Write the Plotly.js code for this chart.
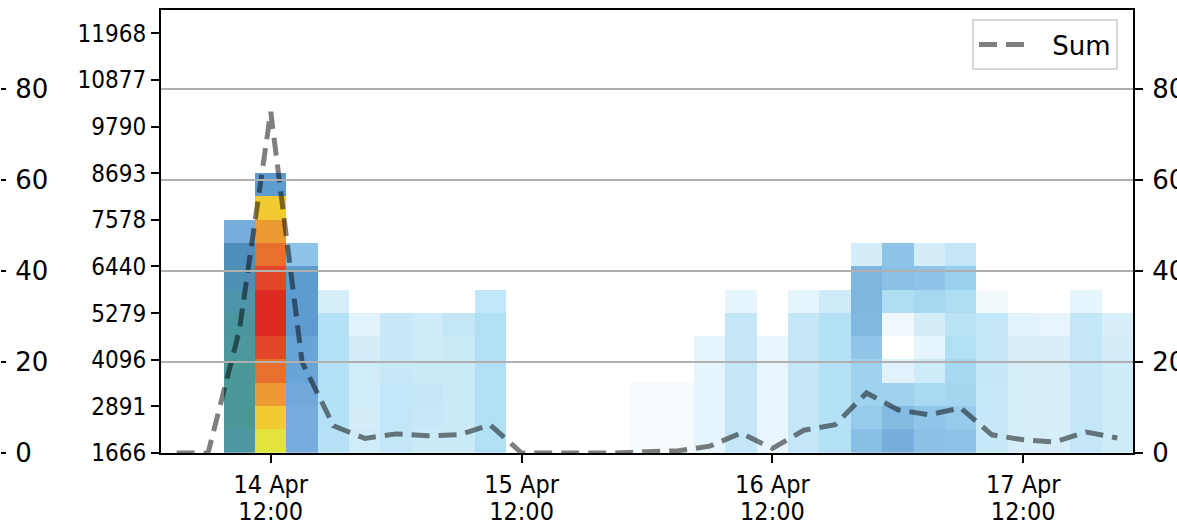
<!DOCTYPE html>
<html>
<head>
<meta charset="utf-8">
<script src="https://cdn.plot.ly/plotly-3.0.1.min.js"></script>
<style>html,body{margin:0;padding:0;background:#fff;}#chart{width:1177px;height:524px;}</style>
</head>
<body>
<div id="chart"></div>
<script>
// ---- data ----
const binCenters = [
  '2024-04-14 03:00','2024-04-14 06:00','2024-04-14 09:00','2024-04-14 12:00','2024-04-14 15:00','2024-04-14 18:00','2024-04-14 21:00',
  '2024-04-15 00:00','2024-04-15 03:00','2024-04-15 06:00','2024-04-15 09:00','2024-04-15 12:00','2024-04-15 15:00','2024-04-15 18:00','2024-04-15 21:00',
  '2024-04-16 00:00','2024-04-16 03:00','2024-04-16 06:00','2024-04-16 09:00','2024-04-16 12:00','2024-04-16 15:00','2024-04-16 18:00','2024-04-16 21:00',
  '2024-04-17 00:00','2024-04-17 03:00','2024-04-17 06:00','2024-04-17 09:00','2024-04-17 12:00','2024-04-17 15:00','2024-04-17 18:00','2024-04-17 21:00'
];
// cell intensity per column, listed bottom row first (empty column = [])
const columnCells = [
  [],
  [],
  [0.69,0.73,0.73,0.73,0.71,0.70,0.67,0.64,0.62,0.50],
  [0.80,0.84,0.88,0.92,0.96,1.00,1.00,0.96,0.92,0.88,0.84,0.56],
  [0.50,0.50,0.51,0.53,0.53,0.56,0.56,0.56,0.40],
  [0.25,0.26,0.26,0.26,0.26,0.26,0.15],
  [0.17,0.16,0.17,0.17,0.16,0.10],
  [0.21,0.22,0.22,0.20,0.20,0.20],
  [0.19,0.20,0.21,0.19,0.18,0.18],
  [0.19,0.19,0.19,0.19,0.19,0.21],
  [0.27,0.27,0.27,0.27,0.27,0.27,0.22],
  [],
  [],
  [],
  [],
  [0.04,0.04,0.04],
  [0.04,0.04,0.04],
  [0.09,0.09,0.09,0.09,0.09],
  [0.21,0.21,0.21,0.21,0.21,0.21,0.09],
  [0.08,0.08,0.08,0.08,0.08],
  [0.21,0.21,0.21,0.21,0.21,0.21,0.09],
  [0.26,0.26,0.26,0.26,0.26,0.26,0.18],
  [0.42,0.37,0.34,0.34,0.39,0.45,0.46,0.46,0.16],
  [0.49,0.44,0.34,0.11,0.00,0.06,0.28,0.41,0.40],
  [0.41,0.39,0.30,0.18,0.09,0.16,0.31,0.40,0.16],
  [0.40,0.37,0.32,0.31,0.27,0.24,0.28,0.35,0.21],
  [0.20,0.20,0.20,0.21,0.21,0.21,0.05],
  [0.15,0.15,0.15,0.15,0.14,0.10],
  [0.15,0.15,0.15,0.15,0.14,0.08],
  [0.21,0.21,0.21,0.21,0.21,0.21,0.09],
  [0.18,0.18,0.18,0.18,0.16,0.14]
];
const sumValues = [0,0,27,75,20,6,3.2,4.2,3.8,4,6.2,0,0,0,0,0.3,0.5,1.5,4.4,1,5,6.2,13.2,9.5,8.4,9.9,4,2.9,2.4,4.6,3.3];
const rowEdgeLabels = ['1666','2891','4096','5279','6440','7578','8693','9790','10877','11968'];
const sumTicks = [0,20,40,60,80];
const dayTicks = ['2024-04-14 12:00','2024-04-15 12:00','2024-04-16 12:00','2024-04-17 12:00'];
const dayLabels = ['14 Apr','15 Apr','16 Apr','17 Apr'];
const timeLabels = ['12:00','12:00','12:00','12:00'];
const seriesName = 'Sum';

// ---- build heatmap matrix ----
const nRows = 20;
const z = [];
for (let r = 0; r < nRows; r++) {
  z.push(columnCells.map(col => (r < col.length ? col[r] : null)));
}
const rowEdges = [];
for (let r = 0; r <= nRows; r++) rowEdges.push(r);
const edgeTickVals = rowEdgeLabels.map((_, i) => i * 2);

const colorscale = [
  [0.00,'#ffffff'],[0.04,'#f5fafd'],[0.10,'#e3f3fb'],[0.18,'#cdebf8'],[0.26,'#b4e1f5'],
  [0.34,'#9ed2ee'],[0.42,'#88bfe5'],[0.50,'#74acdb'],[0.56,'#5e9bd0'],[0.62,'#4f8fbd'],
  [0.68,'#4b96a6'],[0.74,'#4a9a95'],[0.80,'#e2e33b'],[0.84,'#f2cb33'],[0.88,'#ec9b33'],
  [0.92,'#e8702e'],[0.96,'#e3472a'],[1.00,'#df2a24']
];

const condensed = '"DejaVu Sans Condensed", "Liberation Sans Narrow", "DejaVu Sans", sans-serif';
const regular = '"DejaVu Sans", sans-serif';

const traces = [
  {
    type: 'heatmap', x: binCenters, y: rowEdges, z: z,
    colorscale: colorscale, zmin: 0, zmax: 1, showscale: false,
    hoverongaps: false, xaxis: 'x', yaxis: 'y', showlegend: false
  },
  {
    type: 'scatter', mode: 'lines', name: '\u2002\u2009' + seriesName, x: binCenters, y: sumValues,
    xaxis: 'x', yaxis: 'y2',
    line: {color: 'rgba(0,0,0,0.5)', width: 5, dash: '18px,9px'},
    showlegend: true, cliponaxis: false
  }
];

const W = 1133;
const dom0 = 161 / W;

const shapes = sumTicks.filter(v => v > 0).map(v => ({
  type: 'line', xref: 'x domain', x0: 0, x1: 1, yref: 'y2', y0: v, y1: v,
  layer: 'above', line: {color: '#b0b0b0', width: 2}
}));

const layout = {
  width: 1177, height: 524,
  margin: {l: 0, r: 44, t: 10, b: 71, pad: 0},
  paper_bgcolor: '#ffffff', plot_bgcolor: '#ffffff',
  showlegend: true,
  legend: {
    x: 1118 / W, xanchor: 'right', y: 1 - 9 / 443, yanchor: 'top',
    bgcolor: '#ffffff', bordercolor: '#d8d8d8', borderwidth: 2,
    font: {family: regular, size: 26, color: '#000'}, itemwidth: 50
  },
  xaxis: {
    type: 'date', domain: [dom0, 1],
    range: ['2024-04-14 01:30', '2024-04-17 22:30'],
    tickmode: 'array', tickvals: dayTicks, ticktext: dayLabels,
    ticks: 'outside', ticklen: 8, tickwidth: 2, tickcolor: '#000',
    showline: true, linecolor: '#000', linewidth: 2, mirror: true,
    showgrid: false, zeroline: false,
    tickfont: {family: condensed, size: 25, color: '#000'}
  },
  xaxis2: {
    type: 'date', overlaying: 'x', matches: 'x', anchor: 'y', side: 'bottom',
    range: ['2024-04-14 01:30', '2024-04-17 22:30'],
    tickmode: 'array', tickvals: dayTicks, ticktext: timeLabels,
    ticks: '', showline: false, showgrid: false, zeroline: false,
    ticklabelstandoff: 41,
    tickfont: {family: condensed, size: 25, color: '#000'}
  },
  yaxis: {
    range: [0, 19], anchor: 'x',
    tickmode: 'array', tickvals: edgeTickVals, ticktext: rowEdgeLabels,
    ticks: 'outside', ticklen: 8, tickwidth: 2, tickcolor: '#000',
    showline: true, linecolor: '#000', linewidth: 2, mirror: true,
    showgrid: false, zeroline: false,
    tickfont: {family: condensed, size: 24, color: '#000'}
  },
  yaxis2: {
    overlaying: 'y', side: 'right', anchor: 'x',
    range: [0, 97.36], tickmode: 'array', tickvals: sumTicks,
    ticks: 'outside', ticklen: 8, tickwidth: 2, tickcolor: '#000',
    showline: true, linecolor: '#000', linewidth: 2,
    showgrid: false, zeroline: false, ticklabelstandoff: 4,
    tickfont: {family: regular, size: 26, color: '#000'}
  },
  yaxis3: {
    overlaying: 'y', matches: 'y2', side: 'right', anchor: 'free', position: 0,
    range: [0, 97.36], tickmode: 'array', tickvals: sumTicks,
    ticks: 'outside', ticklen: 5, tickwidth: 2, tickcolor: '#000',
    showline: false, showgrid: false, zeroline: false, ticklabelstandoff: 4,
    tickfont: {family: regular, size: 26, color: '#000'}
  },
  shapes: shapes
};

// invisible helper traces so the overlaid label axes get drawn
traces.push({type: 'scatter', mode: 'none', x: [binCenters[0]], y: [null], xaxis: 'x2', yaxis: 'y', showlegend: false, hoverinfo: 'skip'});
traces.push({type: 'scatter', mode: 'none', x: [binCenters[0]], y: [null], xaxis: 'x', yaxis: 'y3', showlegend: false, hoverinfo: 'skip'});

Plotly.newPlot('chart', traces, layout, {staticPlot: true});
</script>
</body>
</html>
